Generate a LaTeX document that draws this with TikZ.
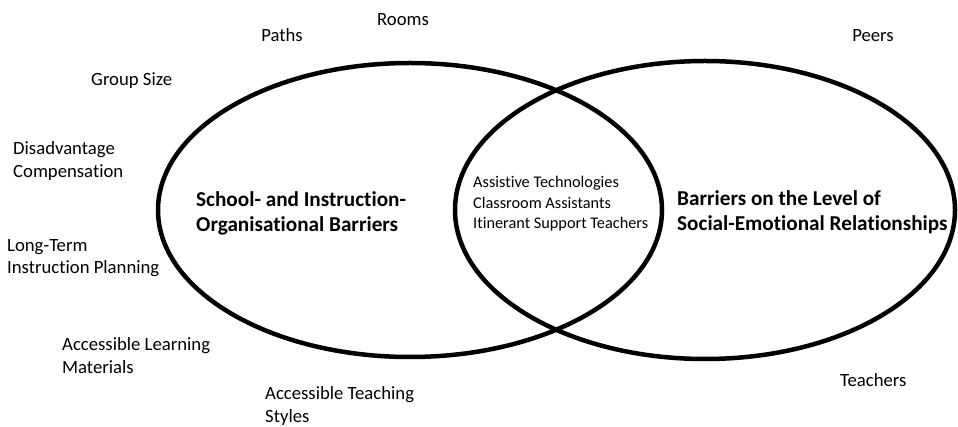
\documentclass[tikz,border=0pt]{standalone}
\usepackage{fontspec}
\setmainfont[Ligatures=NoCommon]{Carlito}
\usetikzlibrary{shapes.geometric}
\tikzset{
  venn/.style={ellipse, draw=black, line width=4.5pt, inner sep=0pt},
  lbl/.style={font=\fontsize{18.7}{22.4}\selectfont, inner sep=0pt, align=left},
  inlbl/.style={font=\fontsize{16.3}{20.7}\selectfont, inner sep=0pt, align=left},
  bigl/.style={font=\fontsize{21.2}{25.5}\selectfont\bfseries, inner sep=0pt, align=left},
}
\begin{document}
\begin{tikzpicture}[x=1pt,y=-1pt]
\useasboundingbox (0,0) rectangle (958,427);
\node[venn, minimum width=504pt, minimum height=294pt] (L) at (410,210) {};
\node[venn, minimum width=500pt, minimum height=298pt] (R) at (705,210) {};
\node[bigl, anchor=base west] (lt) at (196,231.7) {School- and Instruction-\\Organisational Barriers};
\node[bigl, anchor=base west] (rt) at (677,231) {Barriers on the Level of\\Social-Emotional Relationships};
\node[inlbl, anchor=base west] (mid) at (473,229) {Assistive Technologies\\Classroom Assistants\\Itinerant Support Teachers};
\node[lbl, anchor=base] (rooms) at (403,25.7) {Rooms};
\node[lbl, anchor=base] (paths) at (282,41.3) {Paths};
\node[lbl, anchor=base] (peers) at (873,41.7) {Peers};
\node[lbl, anchor=base west] (group) at (91,86) {Group Size};
\node[lbl, anchor=base west] (dis) at (13,177.3) {Disadvantage\\Compensation};
\node[lbl, anchor=base west] (long) at (7,274) {Long-Term\\Instruction Planning};
\node[lbl, anchor=base west] (alm) at (62,373.3) {Accessible Learning\\Materials};
\node[lbl, anchor=base west] (ats) at (265,422.3) {Accessible Teaching\\Styles};
\node[lbl, anchor=base west] (teach) at (840,386) {Teachers};
\end{tikzpicture}
\end{document}
